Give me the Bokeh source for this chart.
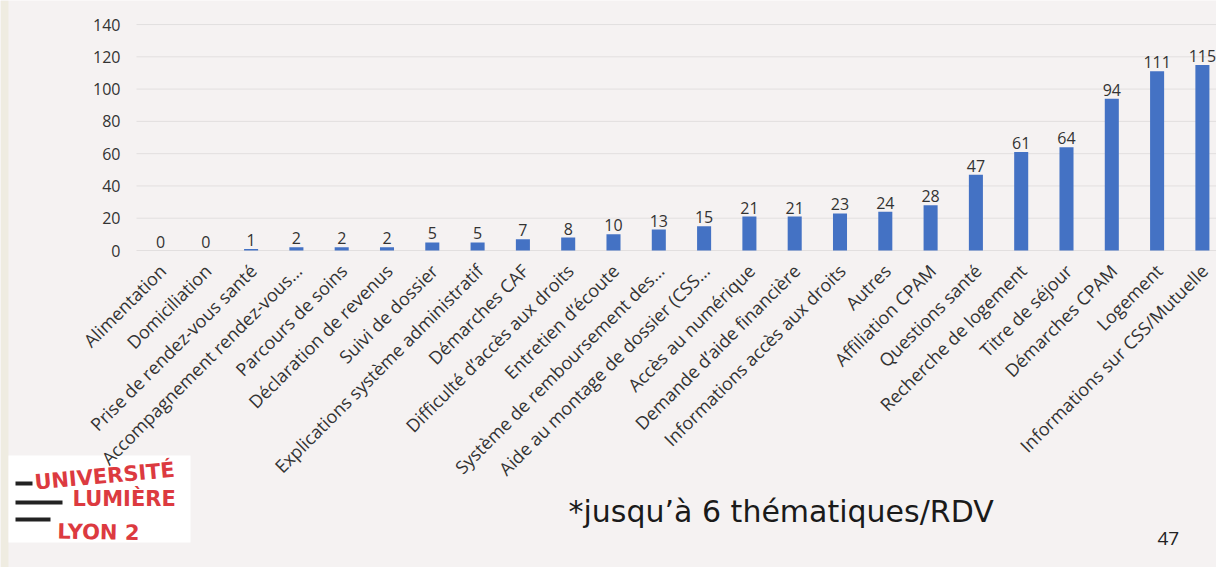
import math
from bokeh.plotting import figure
from bokeh.models import Range1d, Label, BoxAnnotation
from bokeh.core.properties import value
from bokeh.embed import file_html
from bokeh.resources import INLINE

categories = [
    "Alimentation", "Domiciliation", "Prise de rendez-vous santé",
    "Accompagnement rendez-vous…", "Parcours de soins", "Déclaration de revenus",
    "Suivi de dossier", "Explications système administratif", "Démarches CAF",
    "Difficulté d’accès aux droits", "Entretien d’écoute",
    "Système de remboursement des…", "Aide au montage de dossier (CSS…",
    "Accès au numérique", "Demande d’aide financière",
    "Informations accès aux droits", "Autres", "Affiliation CPAM",
    "Questions santé", "Recherche de logement", "Titre de séjour",
    "Démarches CPAM", "Logement", "Informations sur CSS/Mutuelle",
]
counts = [0, 0, 1, 2, 2, 2, 5, 5, 7, 8, 10, 13, 15, 21, 21, 23, 24, 28, 47, 61, 64, 94, 111, 115]
y_ticks = [0, 20, 40, 60, 80, 100, 120, 140]
footnote = "*jusqu’à 6 thématiques/RDV"
page_number = "47"
logo_lines = ["UNIVERSITÉ", "LUMIÈRE", "LYON 2"]

# layout (pixels)
W, H = 1216, 567
CHART_LEFT = 136      # left edge of the gridlines
FIRST_BAR = 160       # centre of first bar
STEP = 45.3           # px between categories
ZERO_Y = 250          # px from top of the y=0 line
PX_PER_UNIT = 1.614

BG = "#f5f2f2"
FONT = "Open Sans"
TXT = "#333333"

idx = list(range(len(categories)))
x_start = -FIRST_BAR / STEP
x_end = x_start + W / STEP
y_end = ZERO_Y / PX_PER_UNIT
y_start = -(H - ZERO_Y) / PX_PER_UNIT
grid_x0 = x_start + CHART_LEFT / STEP

p = figure(width=W, height=H, output_backend="svg", toolbar_location=None,
           x_range=Range1d(x_start, x_end), y_range=Range1d(y_start, y_end),
           x_axis_location=None, y_axis_location=None, min_border=0)
p.background_fill_color = BG
p.border_fill_color = BG
p.outline_line_color = None
p.grid.visible = False

# left beige strip and logo backdrop (drawn beneath glyphs)
p.add_layout(BoxAnnotation(left=0, right=8, left_units="screen", right_units="screen",
                           fill_color="#efece1", fill_alpha=1, line_color=None,
                           level="underlay"))
p.add_layout(BoxAnnotation(left=8, right=190, bottom=25, top=112,
                           left_units="screen", right_units="screen",
                           bottom_units="screen", top_units="screen",
                           fill_color="white", fill_alpha=1, line_color=None,
                           level="underlay"))

# gridlines
p.segment(x0=[grid_x0] * len(y_ticks), x1=[x_end] * len(y_ticks), y0=y_ticks, y1=y_ticks,
          line_color="#e2dfdf", line_width=1)

# y tick labels
p.text(x=[x_start] * len(y_ticks), y=y_ticks, text=[str(t) for t in y_ticks],
       x_offset=120, text_align="right", text_baseline="middle",
       text_font=value(FONT), text_font_size="16px", text_color=TXT)

# bars and values
p.vbar(x=idx, top=counts, width=0.31, bottom=0, fill_color="#4472c4", line_color=None)
p.text(x=idx, y=counts, text=[str(c) for c in counts], y_offset=-9,
       text_align="center", text_baseline="alphabetic", text_font=value(FONT),
       text_font_size="16px", text_color=TXT)

# category labels (rotated)
p.text(x=idx, y=[0] * len(idx), text=categories, angle=math.pi / 4,
       x_offset=2, y_offset=17, text_align="right", text_baseline="middle",
       text_font=value(FONT), text_font_size="18px", text_color=TXT)

# footnote and page number
p.add_layout(Label(x=568, y=56, x_units="screen", y_units="screen", text=footnote,
                   text_font="DejaVu Sans", text_font_size="30px",
                   text_color="#1a1a1a", text_baseline="alphabetic"))
p.add_layout(Label(x=1157, y=29, x_units="screen", y_units="screen", text=page_number,
                   text_font=FONT, text_font_size="19px", text_color="#222222",
                   text_baseline="alphabetic"))

# logo
RED = "#dc3a40"
for (lx, ly, ang, t) in [(34, 85, 0.09, logo_lines[0]),
                         (72, 69, 0.0, logo_lines[1]),
                         (57, 36, -0.02, logo_lines[2])]:
    p.add_layout(Label(x=lx, y=ly, x_units="screen", y_units="screen", text=t,
                       text_font="DejaVu Sans", text_font_style="bold", text_font_size="21px",
                       text_color=RED, angle=ang, text_baseline="alphabetic"))
for (l, r, b) in [(15, 32, 82), (15, 62, 63), (15, 50, 46)]:
    p.add_layout(BoxAnnotation(left=l, right=r, bottom=b, top=b + 4,
                               left_units="screen", right_units="screen",
                               bottom_units="screen", top_units="screen",
                               fill_color="#222222", fill_alpha=1, line_color=None))

open("out.html", "w").write(file_html(p, INLINE))
